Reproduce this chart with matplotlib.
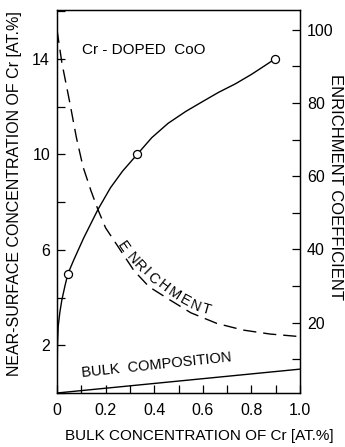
import matplotlib
matplotlib.use("Agg")
import matplotlib.pyplot as plt
from matplotlib.ticker import MultipleLocator, FixedLocator, FixedFormatter

plt.rcParams['font.family'] = ['Liberation Sans Narrow', 'Liberation Sans', 'DejaVu Sans']
plt.rcParams['lines.scale_dashes'] = False

# ---- data ----
surf_x = [0.0, 0.002, 0.005, 0.012, 0.02, 0.033, 0.045, 0.07, 0.11, 0.169, 0.22, 0.27,
          0.33, 0.39, 0.457, 0.53, 0.597, 0.665, 0.733, 0.80, 0.86, 0.897]
surf_y = [0.0, 2.0, 2.8, 3.4, 3.9, 4.5, 5.0, 5.6, 6.5, 7.7, 8.6, 9.3,
          10.0, 10.7, 11.3, 11.8, 12.2, 12.6, 12.95, 13.35, 13.75, 14.0]
circ_x = [0.045, 0.33, 0.897]
circ_y = [5.0, 10.0, 14.0]

enr_x = [0.0, 0.02, 0.053, 0.08, 0.107, 0.14, 0.169, 0.20, 0.263, 0.317, 0.379,
         0.465, 0.551, 0.658, 0.765, 0.877, 1.0]
enr_y = [100, 91, 80, 70.5, 62.6, 56, 50.8, 45.9, 39.6, 34.2, 29.8,
         26.2, 22.7, 19.8, 18.0, 16.9, 16.2]

bulk_x = [0.0, 1.0]
bulk_y = [0.0, 1.0]

x_ticks = [0, 0.2, 0.4, 0.6, 0.8, 1.0]
x_labels = ['0', '0.2', '0.4', '0.6', '0.8', '1.0']
yl_ticks = [2, 6, 10, 14]
yr_ticks = [20, 40, 60, 80, 100]

# ---- figure ----
fig = plt.figure(figsize=(3.45, 4.47), dpi=100)
ax = fig.add_axes([57/345, 1-393/447, 243/345, 383/447])
ax2 = ax.twinx()

lw = 1.0
ax.plot(surf_x, surf_y, color='black', lw=lw, zorder=3)
ax.plot(circ_x, circ_y, 'o', ms=5.8, mfc='white', mec='black', mew=0.9, zorder=4)
ax.plot(bulk_x, bulk_y, color='black', lw=lw)
ax2.plot(enr_x, enr_y, color='black', lw=lw, dashes=(9.5, 5.0))

ax.set_xlim(0, 1.0)
ax.set_ylim(0, 16.05)
ax2.set_ylim(0.8, 105.4)

fs = 11.5
ax.xaxis.set_major_locator(FixedLocator(x_ticks))
ax.xaxis.set_major_formatter(FixedFormatter(x_labels))
ax.xaxis.set_minor_locator(MultipleLocator(0.1))
ax.yaxis.set_major_locator(FixedLocator(yl_ticks))
ax.yaxis.set_minor_locator(MultipleLocator(2))
ax2.yaxis.set_major_locator(FixedLocator(yr_ticks))
ax2.yaxis.set_minor_locator(MultipleLocator(10))

for a in (ax, ax2):
    a.tick_params(which='both', direction='in', width=0.9, labelsize=fs, pad=5)
    a.tick_params(which='major', length=6)
    a.tick_params(which='minor', length=6)
    for s in a.spines.values():
        s.set_linewidth(0.9)
ax.tick_params(axis='x', pad=7)
ax.tick_params(axis='y', which='both', right=False)
ax2.tick_params(axis='y', which='both', left=False)

# texts
fig.text(0.043, 0.568, 'NEAR-SURFACE CONCENTRATION OF Cr [AT.%]', rotation=90,
         ha='center', va='center', fontsize=11.5)
fig.text(0.973, 0.582, 'ENRICHMENT COEFFICIENT', rotation=-90,
         ha='center', va='center', fontsize=12)
fig.text(0.578, 0.0246, 'BULK CONCENTRATION OF Cr [AT.%]',
         ha='center', va='center', fontsize=11)

ax.text(0.103, 0.896, 'Cr - DOPED  CoO', transform=ax.transAxes,
        ha='left', va='center', fontsize=11)
ax.text(0.105, 0.033, 'BULK  COMPOSITION', transform=ax.transAxes,
        ha='left', va='bottom', fontsize=10.5, rotation=6, rotation_mode='anchor')

letters = list('ENRICHMENT')
lx = [0.272, 0.309, 0.337, 0.366, 0.395, 0.436, 0.481, 0.527, 0.568, 0.613]
ly = [0.381, 0.352, 0.332, 0.316, 0.300, 0.279, 0.258, 0.240, 0.227, 0.217]
lr = [-55, -50, -48, -45, -42, -38, -33, -28, -22, -16]
for c, px, py, r in zip(letters, lx, ly, lr):
    ax.text(px, py, c, transform=ax.transAxes, rotation=r, ha='center', va='center',
            fontsize=10.5, rotation_mode='anchor')

fig.savefig('out.png', dpi=100)
